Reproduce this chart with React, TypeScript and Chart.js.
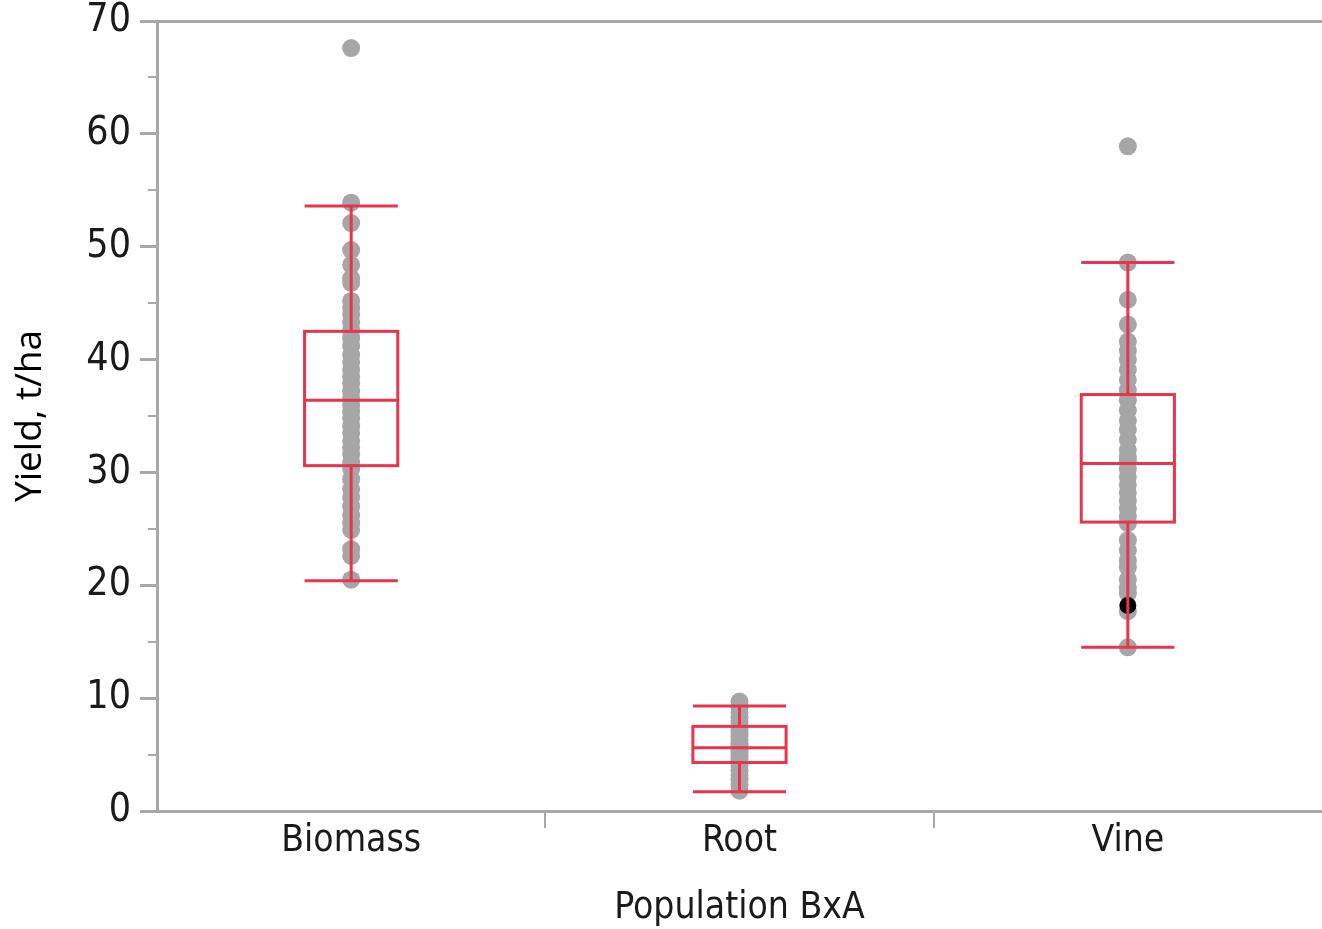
import React, { useEffect, useRef } from "react";
import { Chart, registerables } from "chart.js";

Chart.register(...registerables);

const CATEGORIES = ["Biomass", "Root", "Vine"];

const BIOMASS = [
  67.6, 53.9, 52.1, 49.7, 48.4, 47.2, 46.8, 45.2, 44.6, 44.0, 43.3, 42.6, 41.9,
  41.2, 40.4, 39.8, 39.1, 38.5, 37.9, 37.2, 36.6, 36.0, 35.4, 34.8, 34.1, 33.5,
  32.8, 32.2, 31.6, 30.9, 30.3, 29.4, 28.5, 27.8, 27.0, 26.2, 25.5, 24.9, 23.2,
  22.6, 20.5,
];
const ROOT = [
  1.8, 2.3, 2.8, 3.2, 3.6, 4.0, 4.3, 4.6, 4.9, 5.2, 5.4, 5.6, 5.8, 6.0, 6.3,
  6.6, 6.9, 7.2, 7.5, 7.9, 8.3, 8.7, 9.2, 9.7,
];
const VINE = [
  58.9, 48.6, 45.3, 43.1, 41.6, 40.8, 40.0, 39.1, 38.2, 37.3, 36.4, 35.5, 34.6,
  33.8, 32.9, 32.0, 31.4, 31.0, 30.3, 29.6, 28.9, 28.2, 27.5, 26.8, 26.1, 25.5,
  24.0, 23.1, 22.2, 21.6, 20.5, 19.8, 19.3, 17.7, 14.5,
];
const HIGHLIGHT_CATEGORY = ["Vine"];
const HIGHLIGHT_VALUE = [18.2];

const WHISKER_LOW = [20.4, 1.7, 14.5];
const Q1 = [30.6, 4.3, 25.6];
const MEDIAN = [36.4, 5.6, 30.8];
const Q3 = [42.5, 7.5, 36.9];
const WHISKER_HIGH = [53.6, 9.3, 48.6];

const Y_MIN = 0;
const Y_MAX = 70;
const Y_MAJOR_STEP = 10;
const Y_MINOR_STEP = 5;

const RED = "#e8344c";
const GREY_POINT = "#a6a6a6";
const AXIS_GREY = "#a8a8a8";
const NARROW = "'Liberation Sans Narrow', 'DejaVu Sans Condensed', 'Open Sans', sans-serif";

const boxPlugin = {
  id: "boxplots",
  afterDatasetsDraw(chart: any) {
    const { ctx, scales } = chart;
    const x = scales.x;
    const y = scales.y;
    const step = x.getPixelForValue(1) - x.getPixelForValue(0);
    const hw = step * 0.12;
    ctx.save();
    ctx.strokeStyle = RED;
    ctx.lineWidth = 3;
    CATEGORIES.forEach((_, i) => {
      const cx = x.getPixelForValue(i);
      const yLo = y.getPixelForValue(WHISKER_LOW[i]);
      const yQ1 = y.getPixelForValue(Q1[i]);
      const yMed = y.getPixelForValue(MEDIAN[i]);
      const yQ3 = y.getPixelForValue(Q3[i]);
      const yHi = y.getPixelForValue(WHISKER_HIGH[i]);
      ctx.beginPath();
      ctx.moveTo(cx, yHi);
      ctx.lineTo(cx, yQ3);
      ctx.moveTo(cx, yQ1);
      ctx.lineTo(cx, yLo);
      ctx.moveTo(cx - hw, yHi);
      ctx.lineTo(cx + hw, yHi);
      ctx.moveTo(cx - hw, yLo);
      ctx.lineTo(cx + hw, yLo);
      ctx.moveTo(cx - hw, yMed);
      ctx.lineTo(cx + hw, yMed);
      ctx.stroke();
      ctx.strokeRect(cx - hw, yQ3, hw * 2, yQ1 - yQ3);
    });
    ctx.restore();
  },
};

export default function App() {
  const ref = useRef<HTMLCanvasElement | null>(null);

  useEffect(() => {
    if (!ref.current) return;
    const toPts = (cat: string, arr: number[]) => arr.map((v) => ({ x: cat, y: v }));
    const chart = new Chart(ref.current, {
      type: "scatter",
      data: {
        labels: CATEGORIES,
        datasets: [
          {
            data: [
              ...toPts(CATEGORIES[0], BIOMASS),
              ...toPts(CATEGORIES[1], ROOT),
              ...toPts(CATEGORIES[2], VINE),
            ] as any,
            backgroundColor: GREY_POINT,
            borderWidth: 0,
            pointRadius: 9,
            order: 2,
          },
          {
            data: HIGHLIGHT_CATEGORY.map((c, i) => ({ x: c, y: HIGHLIGHT_VALUE[i] })) as any,
            backgroundColor: "#000000",
            borderWidth: 0,
            pointRadius: 8.5,
            order: 1,
          },
        ],
      },
      plugins: [boxPlugin],
      options: {
        responsive: false,
        animation: false,
        layout: { autoPadding: false, padding: { top: 21, right: 0, left: 0, bottom: 0 } },
        plugins: {
          legend: { display: false },
          tooltip: { enabled: false },
        },
        scales: {
          x: {
            type: "category",
            labels: CATEGORIES,
            offset: true,
            position: "bottom",
            grid: {
              offset: true,
              drawOnChartArea: false,
              tickLength: 17,
              lineWidth: 2,
              tickColor: (c: any) =>
                c.type === "tick" && c.index > 0 ? AXIS_GREY : "rgba(0,0,0,0)",
            },
            border: { color: AXIS_GREY, width: 3 },
            ticks: {
              color: "#1a1a1a",
              padding: -9,
              font: { family: NARROW, size: 37 },
            },
            title: {
              display: true,
              text: "Population BxA",
              color: "#1a1a1a",
              padding: { top: 0, bottom: -2 },
              font: { family: NARROW, size: 37 },
            },
            afterFit: (s: any) => {
              s.height = 118;
              s.paddingLeft = 0;
              s.paddingRight = 0;
            },
          } as any,
          xTop: {
            type: "category",
            labels: CATEGORIES,
            position: "top",
            grid: { display: false, drawTicks: false },
            ticks: { display: false },
            border: { color: AXIS_GREY, width: 3 },
            afterFit: (s: any) => {
              s.height = 0;
              s.paddingLeft = 0;
              s.paddingRight = 0;
            },
          } as any,
          y: {
            type: "linear",
            position: "left",
            min: Y_MIN,
            max: Y_MAX,
            weight: 1,
            grid: {
              drawOnChartArea: false,
              tickLength: 17,
              lineWidth: 3,
              tickColor: AXIS_GREY,
            },
            border: { color: AXIS_GREY, width: 3 },
            ticks: {
              stepSize: Y_MAJOR_STEP,
              color: "#1a1a1a",
              padding: 9,
              font: { family: NARROW, size: 39 },
            },
            title: {
              display: true,
              text: "Yield, t/ha",
              color: "#000000",
              padding: { top: 8, bottom: 0 },
              font: { family: "'Open Sans', sans-serif", size: 37 },
            },
            afterFit: (s: any) => {
              s.width = 157;
              s.paddingTop = 0;
              s.paddingBottom = 0;
            },
          } as any,
          yMinor: {
            type: "linear",
            position: "left",
            min: Y_MIN,
            max: Y_MAX,
            weight: 0,
            grid: {
              drawOnChartArea: false,
              tickLength: 9,
              lineWidth: 2,
              tickColor: AXIS_GREY,
            },
            border: { display: false },
            ticks: { stepSize: Y_MINOR_STEP, display: false },
            afterFit: (s: any) => {
              s.width = 0;
              s.paddingTop = 0;
              s.paddingBottom = 0;
            },
          } as any,
        },
      },
    });
    return () => chart.destroy();
  }, []);

  return (
    <div style={{ position: "fixed", left: 0, top: 0, width: 1322, height: 929, background: "#fff" }}>
      <canvas ref={ref} width={1322} height={929} style={{ width: 1322, height: 929 }} />
    </div>
  );
}
